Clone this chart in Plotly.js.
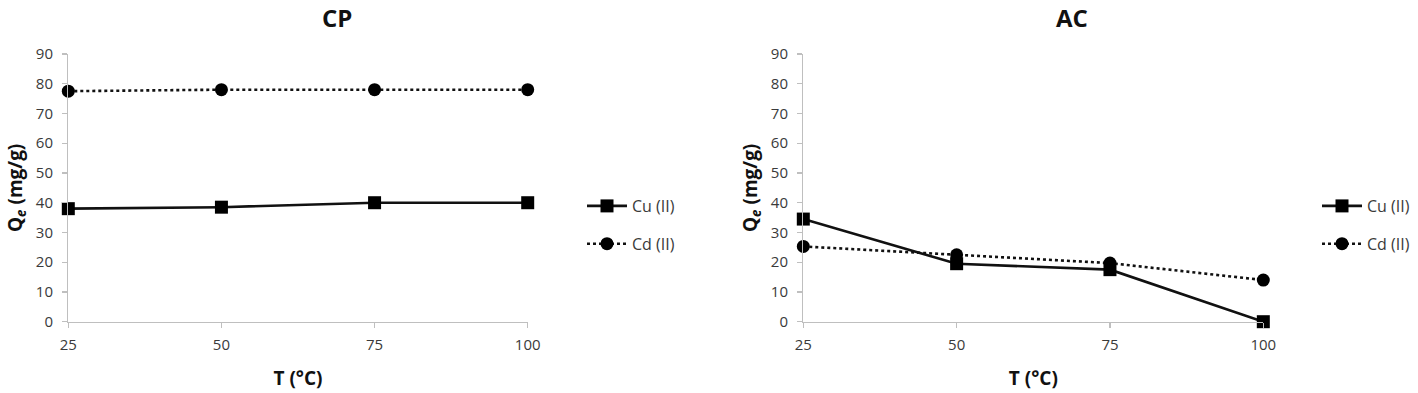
<!DOCTYPE html>
<html>
<head>
<meta charset="utf-8">
<script src="https://cdn.plot.ly/plotly-3.0.1.min.js"></script>
<style>
html,body{margin:0;padding:0;background:#fff;}
#chart{width:1418px;height:393px;}
</style>
</head>
<body>
<div id="chart"></div>
<script>
// Data
const temperatures = [25, 50, 75, 100];
const cpCu = [38, 38.5, 40, 40];
const cpCd = [77.5, 78, 78, 78];
const acCu = [34.5, 19.5, 17.5, 0];
const acCd = [25.3, 22.5, 19.7, 14];
const seriesNames = ['Cu (II)', 'Cd (II)'];
const panelTitles = ['CP', 'AC'];
const yTicks = [0, 10, 20, 30, 40, 50, 60, 70, 80, 90];

const W = 1418, H = 393;
const px = v => v / W;
const py = v => (H - v) / H;

const FONT = 'Open Sans, sans-serif';
const TXT = '#3a3a3a';

function lineTrace(x, y, name, xa, ya, dash, symbol, legend) {
  return {
    x: x, y: y, name: name, type: 'scatter', mode: 'lines+markers',
    xaxis: xa, yaxis: ya, cliponaxis: false,
    line: {color: '#111111', width: 2.6, dash: dash},
    marker: {color: '#000000', symbol: symbol, size: 13},
    legend: legend, legendgroup: name + legend, showlegend: true
  };
}

const traces = [
  lineTrace(temperatures, cpCu, seriesNames[0], 'x', 'y', 'solid', 'square', 'legend'),
  lineTrace(temperatures, cpCd, seriesNames[1], 'x', 'y', 'dot', 'circle', 'legend'),
  lineTrace(temperatures, acCu, seriesNames[0], 'x2', 'y2', 'solid', 'square', 'legend2'),
  lineTrace(temperatures, acCd, seriesNames[1], 'x2', 'y2', 'dot', 'circle', 'legend2')
];

const AX_COL = '#bfbfbf';
function xAxis(domain, anchor) {
  return {
    domain: domain, anchor: anchor, range: [25, 100],
    tickvals: temperatures, ticktext: temperatures.map(String),
    showgrid: false, zeroline: false, showline: true, linecolor: AX_COL, linewidth: 1.3,
    ticks: 'outside', ticklen: 5, tickcolor: AX_COL, tickwidth: 1.3,
    ticklabelstandoff: 4,
    tickfont: {family: FONT, size: 15, color: TXT},
    title: {text: 'T (°C)', font: {family: FONT, size: 19, color: '#111', weight: 'bold'}, standoff: 18},
    fixedrange: true
  };
}
function yAxis(domain, anchor) {
  return {
    domain: domain, anchor: anchor, range: [0, 90],
    tickvals: yTicks,
    showgrid: false, zeroline: false, showline: true, linecolor: AX_COL, linewidth: 1.3,
    ticks: 'outside', ticklen: 5, tickcolor: AX_COL, tickwidth: 1.3,
    ticklabelstandoff: 6,
    tickfont: {family: FONT, size: 15, color: TXT},
    title: {text: '<b>Q<sub><i>e</i></sub> (mg/g)</b>', font: {family: FONT, size: 19, color: '#111'}, standoff: 8},
    fixedrange: true
  };
}

const yDom = [py(321.7), py(54)];
const legendBase = {
  bgcolor: 'rgba(0,0,0,0)', borderwidth: 0,
  font: {family: FONT, size: 16, color: TXT},
  xanchor: 'left', yanchor: 'top', tracegroupgap: 14, itemwidth: 40
};

const layout = {
  width: W, height: H,
  margin: {l: 0, r: 0, t: 0, b: 0},
  paper_bgcolor: '#ffffff', plot_bgcolor: '#ffffff',
  xaxis: xAxis([px(68.3), px(527.7)], 'y'),
  yaxis: yAxis(yDom, 'x'),
  xaxis2: xAxis([px(803.3), px(1263.3)], 'y2'),
  yaxis2: yAxis(yDom, 'x2'),
  legend: Object.assign({}, legendBase, {x: px(582), y: py(189)}),
  legend2: Object.assign({}, legendBase, {x: px(1317), y: py(189)}),
  annotations: [
    {text: '<b>' + panelTitles[0] + '</b>', x: px(337), y: py(-1), xref: 'paper', yref: 'paper',
     xanchor: 'center', yanchor: 'top', showarrow: false, font: {family: FONT, size: 24, color: '#111'}},
    {text: '<b>' + panelTitles[1] + '</b>', x: px(1072), y: py(-1), xref: 'paper', yref: 'paper',
     xanchor: 'center', yanchor: 'top', showarrow: false, font: {family: FONT, size: 24, color: '#111'}}
  ],
  showlegend: true
};

Plotly.newPlot('chart', traces, layout, {staticPlot: true, displayModeBar: false});
</script>
</body>
</html>
